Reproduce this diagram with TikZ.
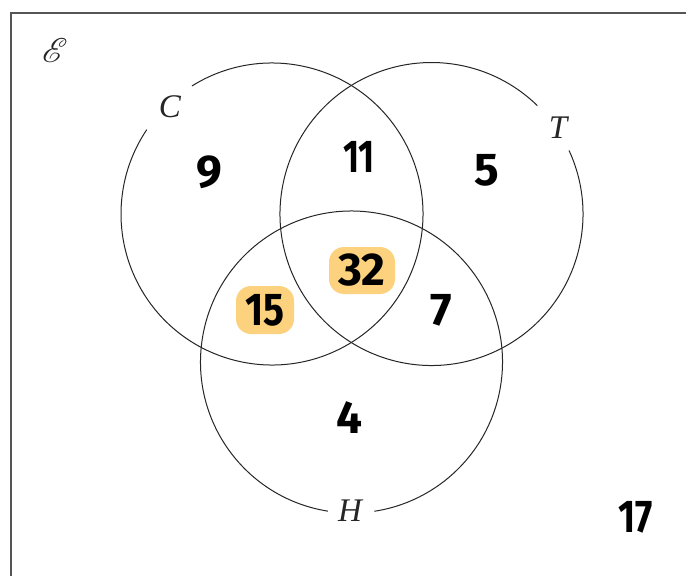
\documentclass[tikz,border=0pt]{standalone}
\usepackage{mathrsfs}
\usepackage{fontspec}
\setmainfont{Liberation Serif}
\newfontfamily\numfont{Fira Sans}
\definecolor{frame}{HTML}{555555}
\definecolor{hilite}{HTML}{FDD27E}
\tikzset{
  setline/.style={line width=1pt, black!85},
  setlabel/.style={font=\fontsize{33}{35}\selectfont\itshape, text=black!85, inner sep=0pt},
  numlabel/.style={font=\numfont\bfseries\fontsize{46}{48}\selectfont, inner sep=0pt},
  blob/.style={fill=hilite, rounded corners=15pt}
}
\begin{document}
\begin{tikzpicture}[x=1pt,y=-1pt]
\useasboundingbox (0,0) rectangle (686,576);
\fill[white] (0,0) rectangle (686,576);
\draw[frame, line width=2pt] (11,13) rectangle (720,620);
\coordinate (Cc) at (272,214);
\coordinate (Tc) at (431.5,214);
\coordinate (Hc) at (351.5,362);
% highlight blobs
\fill[blob] (329,247) rectangle (395,294);
\fill[blob] (236,286) rectangle (294,334);
% circles with gaps for labels
\draw[setline] ([shift={(-122:151)}]Cc) arc[start angle=-122, end angle=214, radius=151];
\draw[setline] ([shift={(-24.8:151.5)}]Tc) arc[start angle=-24.8, end angle=314.3, radius=151.5];
\draw[setline] ([shift={(99:151)}]Hc) arc[start angle=99, end angle=441.3, radius=151];
% labels
\node[inner sep=0pt, text=black!85, minimum width=0pt] (E) at (55,50) {\resizebox{!}{24pt}{$\mathscr{E}$}};
\node[setlabel] (Cl) at (170,107) {C};
\node[setlabel] (Tl) at (558,128) {T};
\node[setlabel] (Hl) at (350,511) {H};
% numbers
\node[numlabel] (n9) at (209,172) {9};
\node[numlabel] (n11) at (359,157) {\scalebox{0.75}[1]{11}};
\node[numlabel] (n5) at (487,170) {5};
\node[numlabel] (n32) at (362,270) {32};
\node[numlabel] (n15) at (265,310) {\scalebox{0.85}[1]{15}};
\node[numlabel] (n7) at (441,310) {7};
\node[numlabel] (n4) at (349,418) {4};
\node[numlabel] (n17) at (636,517) {\scalebox{0.8}[1]{17}};
\end{tikzpicture}
\end{document}
